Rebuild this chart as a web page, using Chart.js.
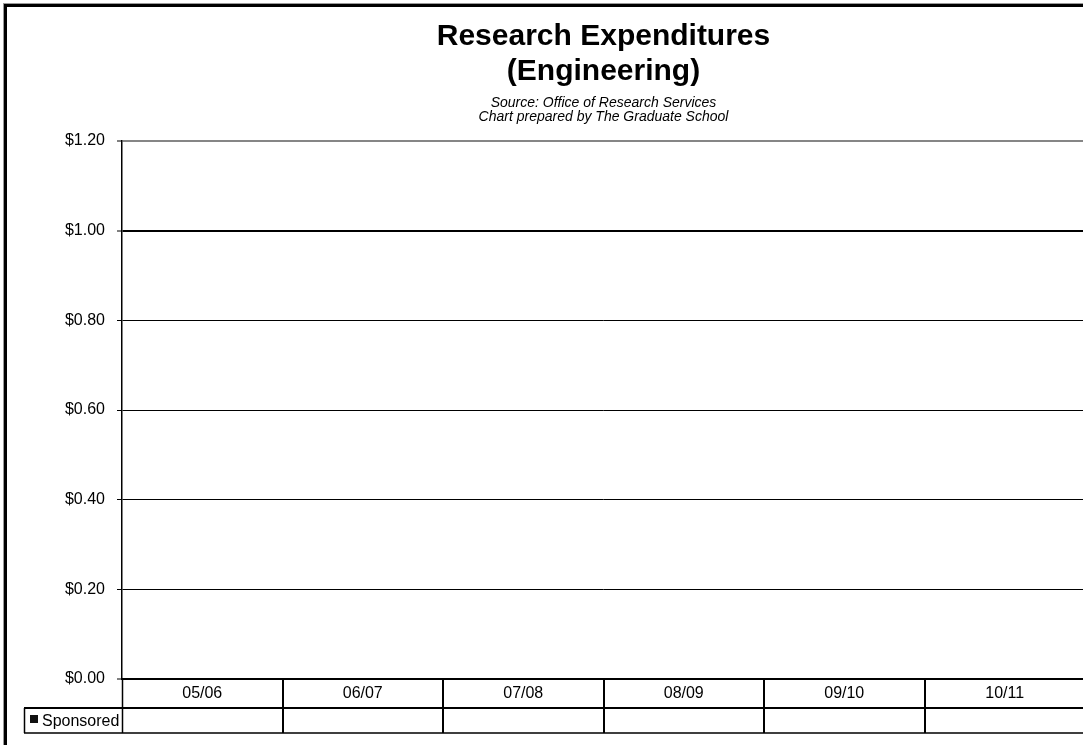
<!DOCTYPE html>
<html>
<head>
<meta charset="utf-8">
<script src="https://cdn.jsdelivr.net/npm/chart.js@4/dist/chart.umd.min.js"></script>
<style>
  html, body { margin: 0; padding: 0; background: #fff; overflow: hidden; width: 1083px; height: 745px; }
  canvas { display: block; }
</style>
</head>
<body>
<canvas id="c" width="1100" height="760"></canvas>
<script>
// Fiscal years shown across the bottom of the plot and in the data table
const categories = ['05/06', '06/07', '07/08', '08/09', '09/10', '10/11'];
// Sponsored research expenditures per year (no amounts reported)
const sponsored = [null, null, null, null, null, null];
// Value axis ticks, in dollars
const yTicks = [0, 0.2, 0.4, 0.6, 0.8, 1.0, 1.2];

const titleLines = ['Research Expenditures', '(Engineering)'];
const subtitleLines = ['Source: Office of Research Services', 'Chart prepared by The Graduate School'];
const seriesName = 'Sponsored';

const FONT = '"Liberation Sans", Arial, Helvetica, sans-serif';

// Frame, title block and the data table under the category axis
const decorations = {
  id: 'decorations',
  afterDraw(chart) {
    const { ctx, chartArea: a, scales: { x } } = chart;
    ctx.save();

    // outer chart frame (only the top and left edges fall inside the window)
    ctx.strokeStyle = '#9a9a9a';
    ctx.lineWidth = 1;
    ctx.strokeRect(3.5, 3.5, 3000, 3000);
    ctx.strokeStyle = '#000';
    ctx.lineWidth = 3;
    ctx.strokeRect(5.5, 5.5, 3000, 3000);

    // titles, centred over the plot area
    const cx = (a.left + a.right) / 2;
    ctx.fillStyle = '#000';
    ctx.textAlign = 'center';
    ctx.textBaseline = 'middle';
    ctx.font = 'bold 30px ' + FONT;
    ctx.fillText(titleLines[0], cx, 37);
    ctx.fillText(titleLines[1], cx, 72);
    ctx.font = 'italic 14px ' + FONT;
    ctx.fillText(subtitleLines[0], cx, 103);
    ctx.fillText(subtitleLines[1], cx, 117);

    // data table geometry
    const n = categories.length;
    const band = x.getPixelForValue(1) - x.getPixelForValue(0);
    const edge = i => x.getPixelForValue(0) - band / 2 + i * band;
    const rowTop = a.bottom;
    const rowMid = rowTop + 29;
    const rowBot = rowMid + 25;
    const legendLeft = 24;

    ctx.strokeStyle = '#000';
    ctx.lineWidth = 2;
    ctx.beginPath();
    ctx.moveTo(legendLeft, rowMid); ctx.lineTo(edge(n) + 2, rowMid);
    ctx.stroke();
    ctx.lineWidth = 1.5;
    ctx.beginPath();
    ctx.moveTo(legendLeft, rowBot); ctx.lineTo(edge(n) + 2, rowBot);
    ctx.moveTo(legendLeft + 0.5, rowMid); ctx.lineTo(legendLeft + 0.5, rowBot);
    ctx.moveTo(a.left + 0.5, rowTop); ctx.lineTo(a.left + 0.5, rowBot);
    ctx.stroke();
    ctx.lineWidth = 2;
    ctx.beginPath();
    for (let i = 1; i < n; i++) {
      const bx = Math.round(edge(i));
      ctx.moveTo(bx, rowTop); ctx.lineTo(bx, rowBot);
    }
    ctx.stroke();

    // legend key and series name
    ctx.fillStyle = '#111';
    ctx.fillRect(30, 715, 8, 8);
    ctx.fillStyle = '#000';
    ctx.font = '16px ' + FONT;
    ctx.textAlign = 'left';
    ctx.fillText(seriesName, 42, (rowMid + rowBot) / 2 + 1);

    // table values
    ctx.textAlign = 'center';
    sponsored.forEach((v, i) => {
      if (v === null || v === undefined) return;
      ctx.fillText('$' + v.toFixed(2), x.getPixelForValue(i), (rowMid + rowBot) / 2 + 1);
    });

    ctx.restore();
  }
};

new Chart(document.getElementById('c'), {
  type: 'bar',
  data: {
    labels: categories,
    datasets: [{
      label: seriesName,
      data: sponsored,
      backgroundColor: '#000',
      borderWidth: 0
    }]
  },
  options: {
    responsive: false,
    animation: false,
    devicePixelRatio: 1,
    layout: { padding: { top: 141, left: 0, right: 15, bottom: 0 } },
    plugins: {
      legend: { display: false },
      title: { display: false },
      tooltip: { enabled: false }
    },
    scales: {
      x: {
        offset: true,
        afterFit: s => { s.height = 81; },
        grid: { display: false, drawTicks: false },
        border: { display: true, color: '#000', width: 2 },
        ticks: {
          color: '#000',
          font: { family: FONT, size: 16 },
          padding: 5,
          maxRotation: 0
        }
      },
      y: {
        min: 0,
        max: 1.2,
        afterFit: s => { s.width = 122; },
        afterBuildTicks: s => { s.ticks = yTicks.map(v => ({ value: v })); },
        grid: {
          color: c => (c.tick && c.tick.value === 1.2 ? '#868686' : '#000'),
          lineWidth: c => (c.tick && (c.tick.value === 1.2 || c.tick.value === 1 || c.tick.value === 0) ? 2 : 1),
          tickColor: '#000',
          tickLength: 5,
          tickWidth: 1,
          drawTicks: true
        },
        border: { display: true, color: '#000', width: 1.5 },
        ticks: {
          color: '#000',
          font: { family: FONT, size: 16 },
          padding: 12,
          callback: v => '$' + Number(v).toFixed(2)
        }
      }
    }
  },
  plugins: [decorations]
});
</script>
</body>
</html>
